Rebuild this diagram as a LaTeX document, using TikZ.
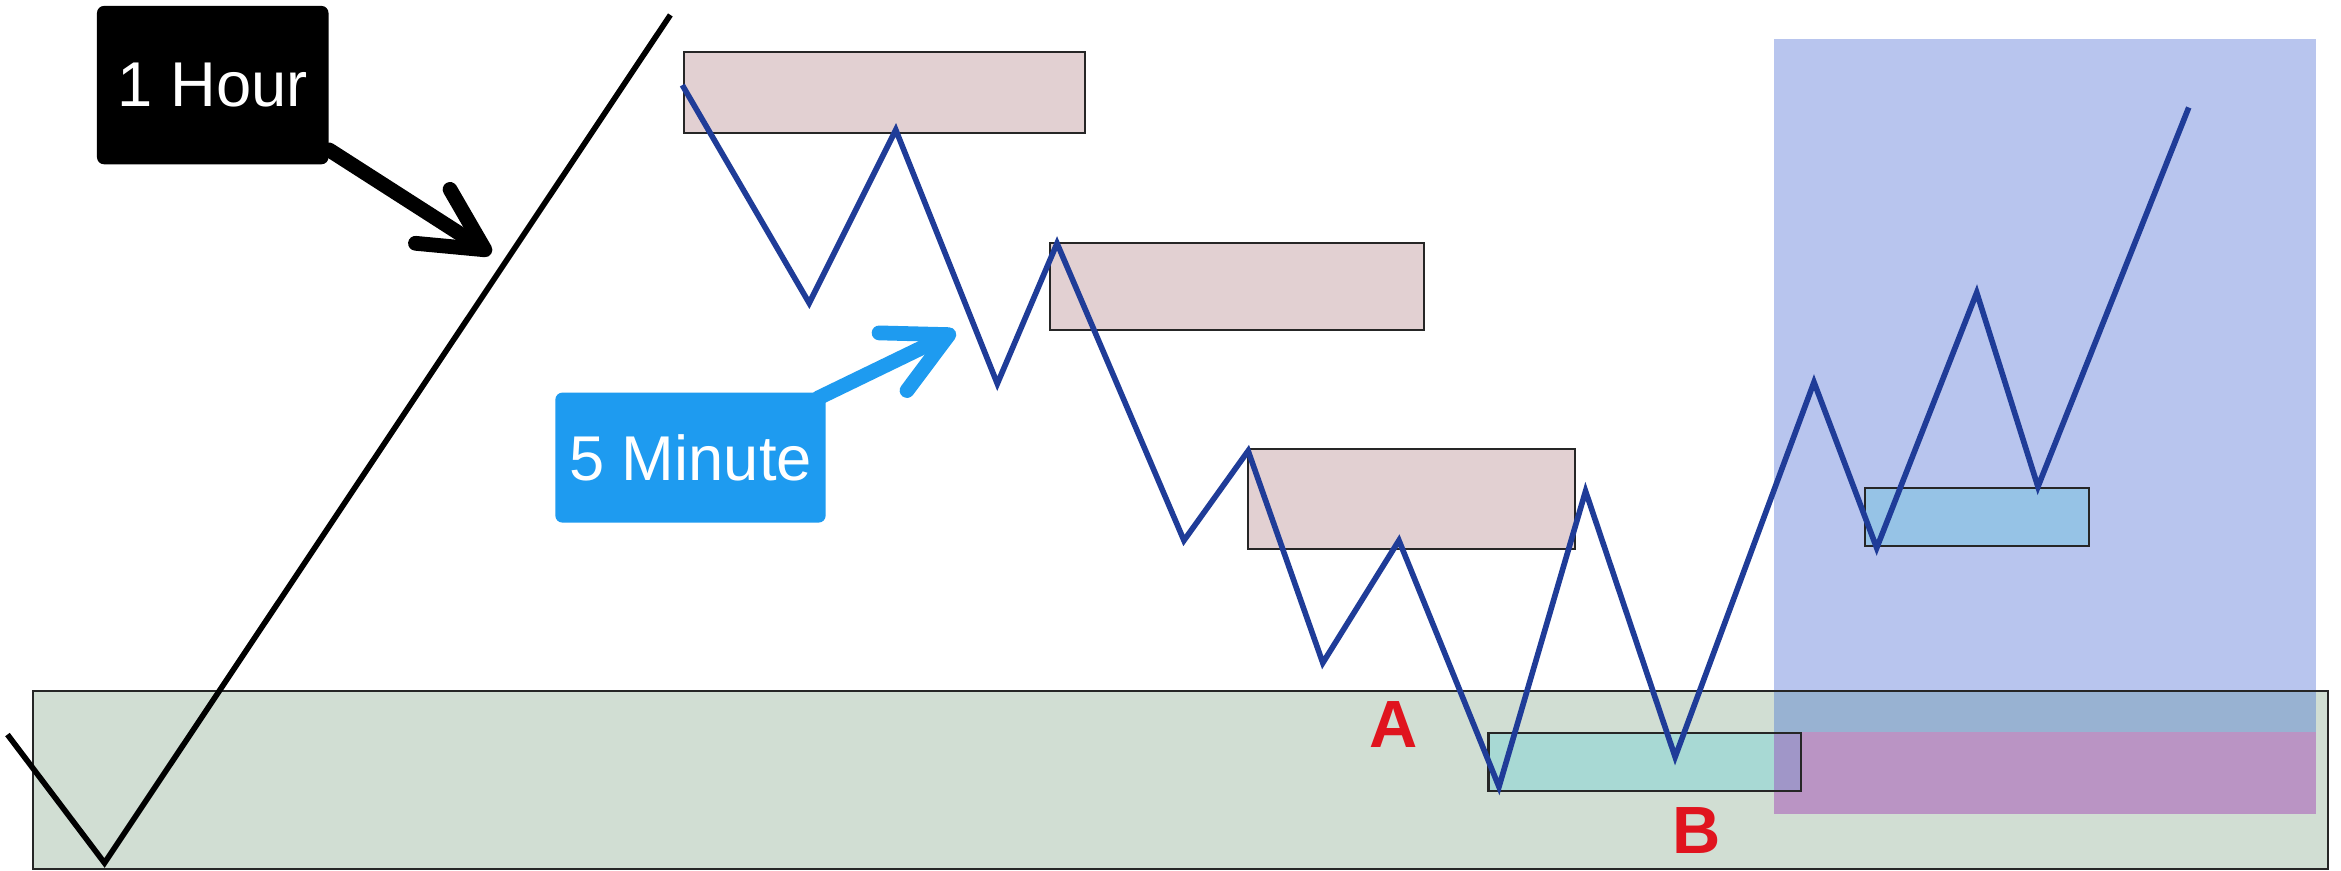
\documentclass[tikz,border=0pt]{standalone}
\usepackage{fontspec}
\setmainfont{Liberation Sans}
\usetikzlibrary{arrows.meta}
\definecolor{zonegreen}{HTML}{D1DED3}
\definecolor{supply}{HTML}{E2D0D2}
\definecolor{bluezone}{HTML}{B8C5EE}
\definecolor{bluegreen}{HTML}{98B2D2}
\definecolor{purplezone}{HTML}{BA94C4}
\definecolor{demand}{HTML}{A8D9D4}
\definecolor{demandpurple}{HTML}{A096C8}
\definecolor{demandblue}{HTML}{96C3E6}
\definecolor{pricecol}{HTML}{1F3C98}
\definecolor{calloutblue}{HTML}{1E9BF0}
\definecolor{labelred}{HTML}{E0141E}
\begin{document}
\begin{tikzpicture}[x=0.01493cm,y=-0.01493cm,
  zonebox/.style={draw=black!85, line width=0.6pt},
  priceline/.style={draw=pricecol, line width=1.6pt},
  hourline/.style={draw=black, line width=1.6pt},
  callout/.style={text=white, font=\fontsize{18}{20}\selectfont, rounded corners=2pt, inner sep=0pt},
  pointer/.style={line width=4.2pt, line cap=round, -{Straight Barb[length=0.62cm,width=0.64cm,round]}},
  letter/.style={text=labelred, font=\fontsize{19}{20}\selectfont\bfseries}
]
\useasboundingbox (0,0) rectangle (1568,583);
\fill[white] (0,0) rectangle (1568,583);
% green zone and right-hand blue region
\fill[zonegreen] (22,463) rectangle (1559,582);
\fill[bluezone] (1188,26) rectangle (1551,463);
\fill[bluegreen] (1188,463) rectangle (1551,490);
\fill[purplezone] (1188,490) rectangle (1551,545);
\draw[zonebox] (22,463) rectangle (1559,582);
% supply zones
\draw[zonebox, fill=supply] (458,35) rectangle (727,89);
\draw[zonebox, fill=supply] (703,163) rectangle (954,221);
\draw[zonebox, fill=supply] (836,301) rectangle (1055,368);
% demand zones
\fill[demand] (997,491) rectangle (1188,530);
\fill[demandpurple] (1188,491) rectangle (1206,530);
\draw[zonebox] (997,491) rectangle (1206,530);
\draw[zonebox, fill=demandblue] (1249,327) rectangle (1399,366);
% 1 hour line
\coordinate (h0) at (5,492);
\coordinate (h1) at (70,578);
\coordinate (h2) at (449,10);
\draw[hourline] (h0) -- (h1) -- (h2);
% 5 minute price line
\coordinate (p0) at (457,57);
\coordinate (p1) at (542,203);
\coordinate (p2) at (600,87);
\coordinate (p3) at (668,257);
\coordinate (p4) at (708,163);
\coordinate (p5) at (793,362);
\coordinate (p6) at (836,302);
\coordinate (p7) at (886,444);
\coordinate (p8) at (937,362);
\coordinate (p9) at (1004,527);
\coordinate (p10) at (1062,329);
\coordinate (p11) at (1122,507);
\coordinate (p12) at (1215,256);
\coordinate (p13) at (1257,367);
\coordinate (p14) at (1324,196);
\coordinate (p15) at (1365,326);
\coordinate (p16) at (1466,72);
\draw[priceline] (p0) -- (p1) -- (p2) -- (p3) -- (p4) -- (p5) -- (p6) -- (p7) -- (p8)
  -- (p9) -- (p10) -- (p11) -- (p12) -- (p13) -- (p14) -- (p15) -- (p16);
% callouts
\node[callout, fill=black, minimum width=2.314cm, minimum height=1.583cm] (hour) at (142.5,57) {1 Hour};
\coordinate (hourtip) at (329,170);
\draw[pointer, draw=black] ([yshift=0.15cm]hour.south east) -- (hourtip);
\node[callout, fill=calloutblue, minimum width=2.702cm, minimum height=1.299cm] (minute) at (462.5,306.5) {5 Minute};
\coordinate (minutetip) at (640,222);
\draw[pointer, draw=calloutblue] ([shift={(-0.08cm,-0.06cm)}]minute.north east) -- (minutetip);
% labels
\node[letter] (A) at (933.5,485.5) {A};
\node[letter] (B) at (1136.5,556) {B};
\end{tikzpicture}
\end{document}
